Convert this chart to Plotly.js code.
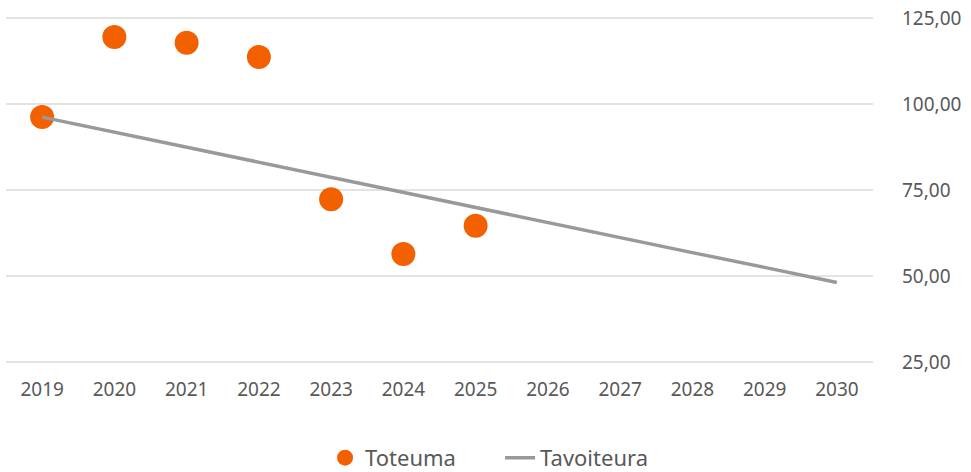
<!DOCTYPE html>
<html>
<head>
<meta charset="utf-8">
<script src="https://cdn.plot.ly/plotly-3.0.1.min.js"></script>
<style>
  html, body { margin: 0; padding: 0; background: #fff; }
  #chart { width: 971px; height: 472px; }
</style>
</head>
<body>
<div id="chart"></div>
<script>
// Years on the x axis
const years = ['2019', '2020', '2021', '2022', '2023', '2024', '2025', '2026', '2027', '2028', '2029', '2030'];

// Actual values (Toteuma), only up to 2025
const actualYears = ['2019', '2020', '2021', '2022', '2023', '2024', '2025'];
const actualValues = [96.2, 119.5, 117.8, 113.7, 72.3, 56.4, 64.6];

// Target path (Tavoiteura)
const targetValues = [96.2, 91.8, 87.5, 83.1, 78.7, 74.3, 70.0, 65.6, 61.2, 56.8, 52.5, 48.1];

const yTicks = [25, 50, 75, 100, 125];

const textColor = '#595959';

const traces = [
    {
        x: actualYears,
        y: actualValues,
        name: 'Toteuma',
        type: 'scatter',
        mode: 'markers',
        marker: { color: '#f26000', size: 24 }
    },
    {
        x: years,
        y: targetValues,
        name: 'Tavoiteura',
        type: 'scatter',
        mode: 'lines',
        line: { color: '#999999', width: 3.5 }
    }
];

const layout = {
    width: 971,
    height: 472,
    margin: { l: 6, r: 98, t: 17, b: 109 },
    paper_bgcolor: '#ffffff',
    plot_bgcolor: '#ffffff',
    separators: ', ',
    font: { family: 'Noto Sans, sans-serif', size: 19, color: textColor },
    xaxis: {
        type: 'category',
        categoryorder: 'array',
        categoryarray: years,
        range: [-0.5, 11.5],
        showgrid: false,
        zeroline: false,
        showline: false,
        ticks: '',
        ticklabelstandoff: 13,
        tickfont: { size: 19, color: textColor }
    },
    yaxis: {
        side: 'right',
        range: [24.7, 125.3],
        tickvals: yTicks,
        tickformat: '.2f',
        showgrid: true,
        gridcolor: '#e3e3e3',
        gridwidth: 1.5,
        zeroline: false,
        showline: false,
        ticks: '',
        ticklabelstandoff: 28,
        tickfont: { size: 19, color: textColor }
    },
    showlegend: true,
    legend: {
        orientation: 'h',
        xref: 'container',
        yref: 'container',
        x: 0.515,
        xanchor: 'center',
        y: 0.03,
        yanchor: 'middle',
        font: { size: 22, color: textColor },
        itemwidth: 30,
        entrywidth: 130,
        tracegroupgap: 0
    }
};

Plotly.newPlot('chart', traces, layout, { displayModeBar: false, staticPlot: true });
</script>
</body>
</html>
